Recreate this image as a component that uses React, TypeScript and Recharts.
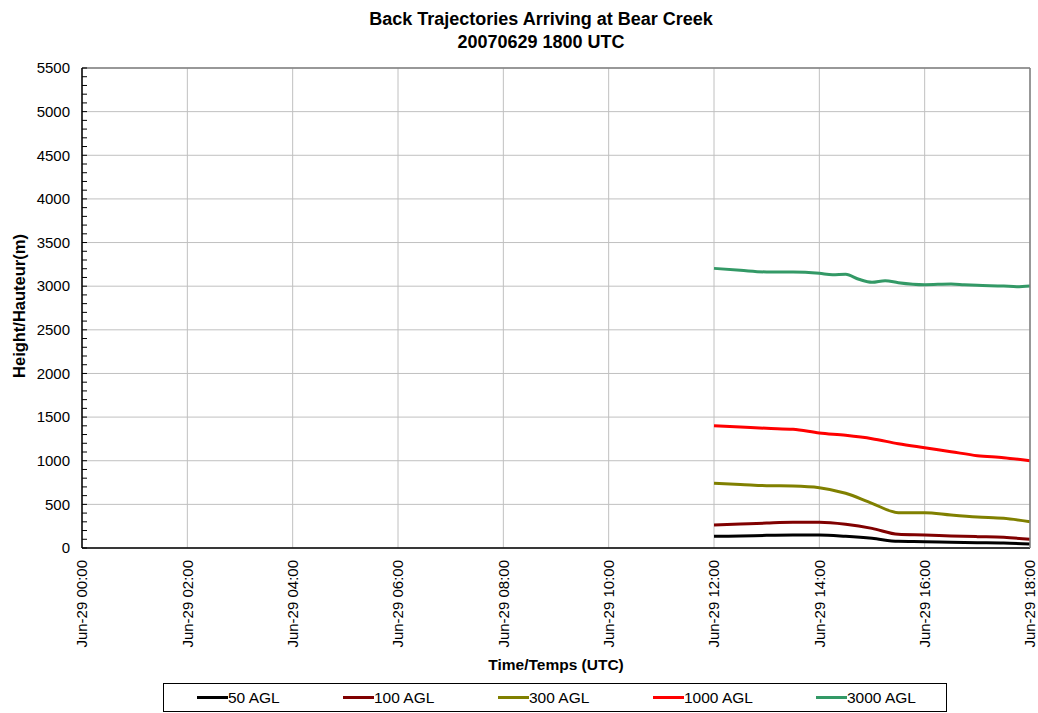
import React from "react";
import { LineChart, Line, XAxis, YAxis, CartesianGrid } from "recharts";

// Hours since Jun-29 00:00 UTC
const times = [12, 12.5, 13, 13.5, 14, 14.5, 15, 15.5, 16, 16.5, 17, 17.5, 18];
const agl50 = [134, 137, 145, 149, 149, 134, 111, 76, 72, 65, 61, 57, 46];
const agl100 = [264, 275, 286, 294, 294, 271, 225, 157, 149, 138, 130, 122, 99];
const agl300 = [741, 729, 714, 710, 691, 627, 512, 405, 405, 378, 355, 340, 302];
const agl1000 = [1402, 1387, 1371, 1360, 1318, 1291, 1253, 1195, 1149, 1104, 1058, 1035, 1000];
const times3000 = [12, 12.5, 13, 13.5, 14, 14.25, 14.5, 14.75, 15, 15.25, 15.5, 16, 16.5, 16.75, 17, 17.5, 17.75, 18];
const agl3000 = [3204, 3182, 3163, 3163, 3148, 3132, 3136, 3079, 3044, 3063, 3040, 3017, 3025, 3017, 3010, 3002, 2994, 3002];

const xTicks = [0, 2, 4, 6, 8, 10, 12, 14, 16, 18];
const yMajor = [0, 500, 1000, 1500, 2000, 2500, 3000, 3500, 4000, 4500, 5000, 5500];
const yMinor = Array.from({ length: 56 }, (_, i) => i * 100);

const seriesNames = ["50 AGL", "100 AGL", "300 AGL", "1000 AGL", "3000 AGL"];
const seriesColors = ["#000000", "#800000", "#808000", "#ff0000", "#339966"];
const legendLeft = [33, 179, 334, 489, 652];

const mk = (t: number[], v: number[]) => t.map((h, i) => ({ t: h, v: v[i] }));
const seriesData = [
  mk(times, agl50),
  mk(times, agl100),
  mk(times, agl300),
  mk(times, agl1000),
  mk(times3000, agl3000),
];

const FONT = "'Liberation Sans', Arial, sans-serif";

const fmtTime = (h: number) => `Jun-29 ${String(h).padStart(2, "0")}:00`;

const XTick = (props: any) => {
  const { x, y, payload } = props;
  return (
    <text
      x={x}
      y={y + 12}
      transform={`rotate(-90 ${x} ${y + 12})`}
      textAnchor="end"
      dy="0.35em"
      fontSize={15}
      fontFamily={FONT}
      fill="#000"
    >
      {fmtTime(payload.value)}
    </text>
  );
};

const YTick = (props: any) => {
  const { x, y, payload } = props;
  const major = payload.value % 500 === 0;
  return (
    <g>
      <line x1={x} x2={x + 5} y1={y} y2={y} stroke="#000" strokeWidth={1} />
      {major && (
        <text x={x - 12} y={y} dy="0.35em" textAnchor="end" fontSize={15} fontFamily={FONT} fill="#000">
          {payload.value}
        </text>
      )}
    </g>
  );
};

export default function App() {
  return (
    <div style={{ position: "absolute", left: 0, top: 0, width: 1038, height: 713, background: "#fff", fontFamily: FONT }}>
      <div style={{ position: "absolute", left: 0, width: 1082, top: 8, textAlign: "center", fontWeight: "bold", fontSize: 18, lineHeight: "23px" }}>
        Back Trajectories Arriving at Bear Creek
        <br />
        20070629 1800 UTC
      </div>
      <LineChart
        width={1038}
        height={713}
        margin={{ top: 67, right: 7, bottom: 164, left: 81 }}
      >
        <CartesianGrid
          stroke="#c0c0c0"
          horizontalValues={yMajor}
          verticalValues={xTicks}
          xAxisId="main"
          yAxisId="main"
        />
        <XAxis
          xAxisId="main"
          dataKey="t"
          type="number"
          domain={[0, 18]}
          ticks={xTicks}
          interval={0}
          height={1}
          tickSize={0}
          tickMargin={0}
          tickLine={false}
          axisLine={{ stroke: "#000", strokeWidth: 1.5 }}
          tick={XTick}
        />
        <XAxis
          xAxisId="top"
          orientation="top"
          type="number"
          domain={[0, 18]}
          height={1}
          tick={false}
          tickLine={false}
          axisLine={{ stroke: "#808080", strokeWidth: 1.5 }}
        />
        <YAxis
          yAxisId="main"
          type="number"
          domain={[0, 5500]}
          ticks={yMinor}
          interval={0}
          width={1}
          tickSize={0}
          tickMargin={0}
          tickLine={false}
          axisLine={{ stroke: "#000", strokeWidth: 1.5 }}
          tick={YTick}
        />
        <YAxis
          yAxisId="right"
          orientation="right"
          type="number"
          domain={[0, 5500]}
          width={1}
          tick={false}
          tickLine={false}
          axisLine={{ stroke: "#808080", strokeWidth: 1.5 }}
        />
        {seriesData.map((d, i) => (
          <Line
            key={seriesNames[i]}
            data={d}
            dataKey="v"
            name={seriesNames[i]}
            xAxisId="main"
            yAxisId="main"
            type="monotone"
            stroke={seriesColors[i]}
            strokeWidth={3}
            dot={false}
            isAnimationActive={false}
          />
        ))}
      </LineChart>
      <div
        style={{
          position: "absolute",
          left: 19,
          top: 306,
          transform: "translate(-50%, -50%) rotate(-90deg)",
          whiteSpace: "nowrap",
          fontWeight: "bold",
          fontSize: 16.5,
        }}
      >
        Height/Hauteur(m)
      </div>
      <div
        style={{
          position: "absolute",
          left: 556,
          top: 665,
          transform: "translate(-50%, -50%)",
          whiteSpace: "nowrap",
          fontWeight: "bold",
          fontSize: 15.5,
        }}
      >
        Time/Temps (UTC)
      </div>
      <div
        style={{
          position: "absolute",
          left: 163,
          top: 683,
          width: 784,
          height: 29,
          border: "1px solid #000",
          boxSizing: "border-box",
        }}
      >
        {seriesNames.map((n, i) => (
          <div
            key={n}
            style={{
              position: "absolute",
              left: legendLeft[i],
              top: 0,
              height: 27,
              display: "flex",
              alignItems: "center",
              fontSize: 15.5,
              whiteSpace: "nowrap",
            }}
          >
            <span style={{ display: "inline-block", width: 31, height: 3, background: seriesColors[i] }} />
            <span>{n}</span>
          </div>
        ))}
      </div>
    </div>
  );
}
